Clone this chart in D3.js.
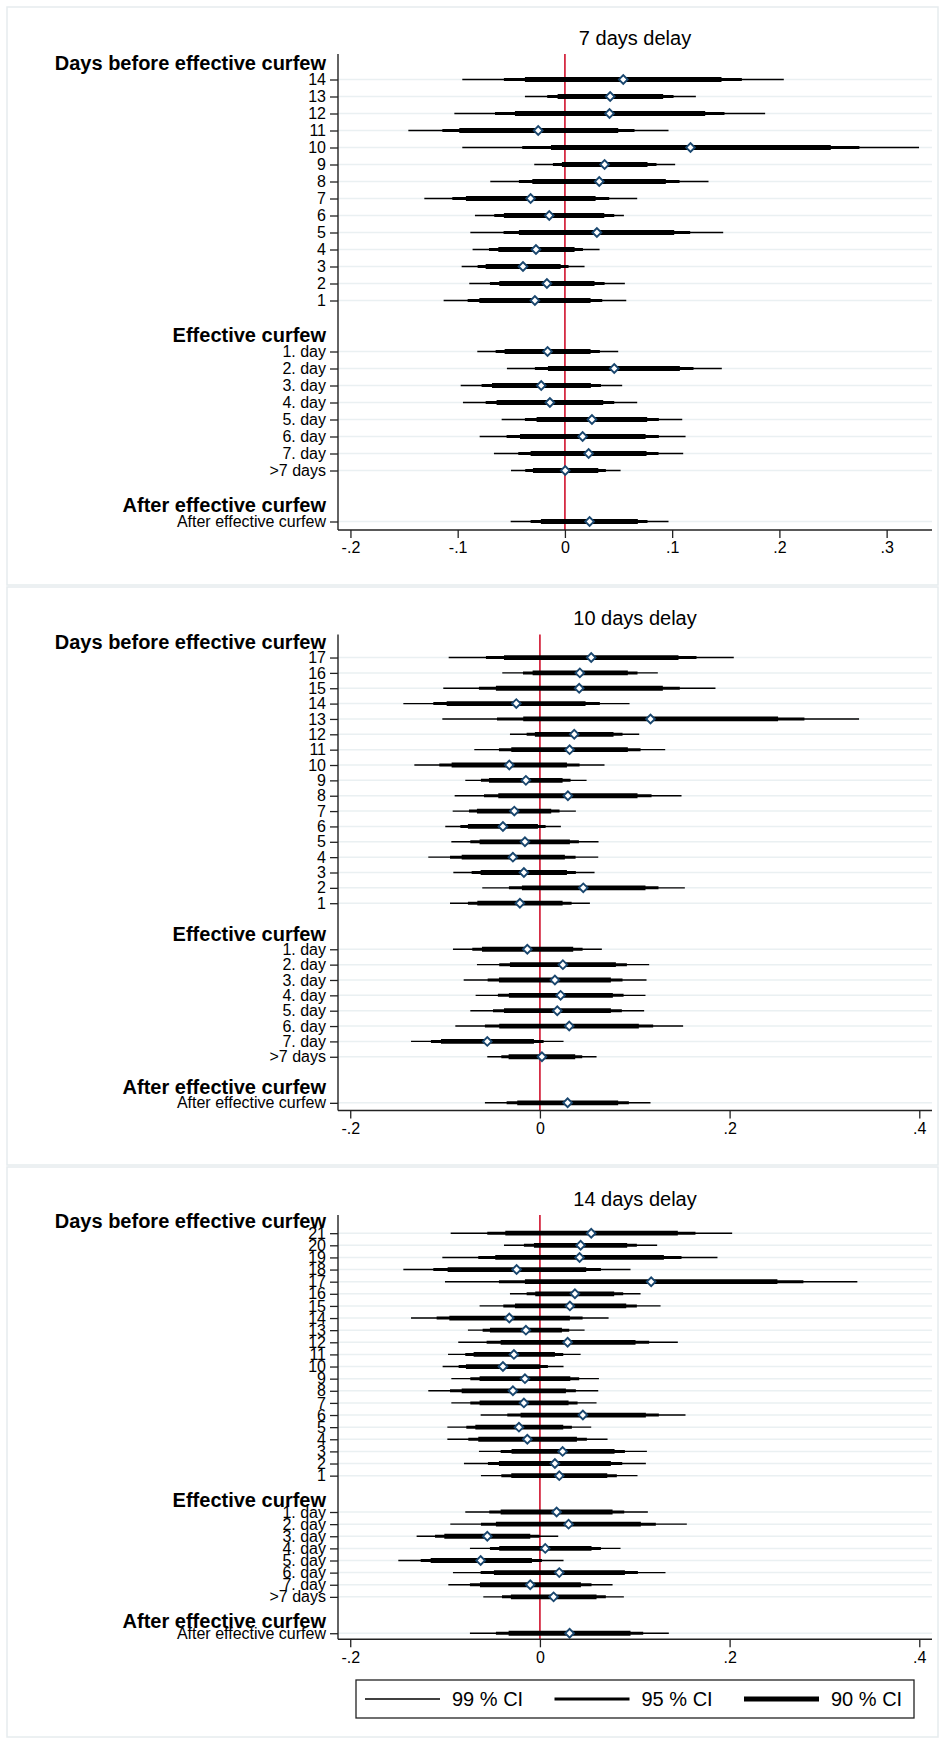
<!DOCTYPE html>
<html>
<head>
<meta charset="utf-8">
<script src="https://cdn.jsdelivr.net/npm/d3@7"></script>
<style>
  body { margin: 0; background: #fff; }
  svg text { font-family: "Liberation Sans", Arial, sans-serif; fill: #000; }
</style>
</head>
<body>
<svg id="chart" width="940" height="1738"></svg>
<script>
'use strict';

// ---- labels ----
var days7 = ['14', '13', '12', '11', '10', '9', '8', '7', '6', '5', '4', '3', '2', '1'];
var days10 = ['17', '16', '15', '14', '13', '12', '11', '10', '9', '8', '7', '6', '5', '4', '3', '2', '1'];
var days14 = ['21', '20', '19', '18', '17', '16', '15', '14', '13', '12', '11', '10', '9', '8', '7', '6', '5', '4', '3', '2', '1'];
var effDays = ['1. day', '2. day', '3. day', '4. day', '5. day', '6. day', '7. day', '>7 days'];
var afterDays = ['After effective curfew'];
var groupHeaders = ['Days before effective curfew', 'Effective curfew', 'After effective curfew'];
var legendLabels = ['99 % CI', '95 % CI', '90 % CI'];

// ---- x ticks ----
var xTicks7 = [-0.2, -0.1, 0, 0.1, 0.2, 0.3];
var xTickLabels7 = ['-.2', '-.1', '0', '.1', '.2', '.3'];
var xTicks10 = [-0.2, 0, 0.2, 0.4];
var xTickLabels10 = ['-.2', '0', '.2', '.4'];

// ---- 7 days delay ----
var est7 = [0.0544, 0.0422, 0.0416, -0.0249, 0.1171, 0.0370, 0.0320, -0.0320, -0.0146, 0.0298, -0.0270, -0.0391, -0.0168, -0.0280,
  -0.0162, 0.0460, -0.0221, -0.0140, 0.0252, 0.0165, 0.0221, 0.0003, 0.0230];
var lo99_7 = [-0.0957, -0.0373, -0.1031, -0.1460, -0.0957, -0.0286, -0.0696, -0.1311, -0.0839, -0.0882, -0.0861, -0.0963, -0.0892, -0.1131,
  -0.0817, -0.0541, -0.0972, -0.0951, -0.0590, -0.0795, -0.0662, -0.0503, -0.0506];
var hi99_7 = [0.2041, 0.1221, 0.1867, 0.0966, 0.3302, 0.1028, 0.1339, 0.0674, 0.0550, 0.1476, 0.0323, 0.0183, 0.0559, 0.0572,
  0.0497, 0.1463, 0.0534, 0.0674, 0.1094, 0.1125, 0.1103, 0.0519, 0.0966];
var lo95_7 = [-0.0569, -0.0165, -0.0652, -0.1143, -0.0398, -0.0112, -0.0429, -0.1050, -0.0659, -0.0572, -0.0708, -0.0814, -0.0699, -0.0907,
  -0.0646, -0.0280, -0.0777, -0.0739, -0.0373, -0.0544, -0.0435, -0.0370, -0.0320];
var hi95_7 = [0.1650, 0.1013, 0.1488, 0.0649, 0.2746, 0.0854, 0.1069, 0.0413, 0.0460, 0.1168, 0.0168, 0.0034, 0.0370, 0.0348,
  0.0326, 0.1199, 0.0336, 0.0460, 0.0876, 0.0876, 0.0873, 0.0382, 0.0770];
var lo90_7 = [-0.0373, -0.0068, -0.0466, -0.0985, -0.0130, -0.0028, -0.0304, -0.0923, -0.0569, -0.0429, -0.0621, -0.0739, -0.0612, -0.0798,
  -0.0562, -0.0158, -0.0680, -0.0637, -0.0264, -0.0419, -0.0320, -0.0298, -0.0224];
var hi90_7 = [0.1460, 0.0916, 0.1308, 0.0497, 0.2479, 0.0770, 0.0941, 0.0286, 0.0367, 0.1019, 0.0090, -0.0040, 0.0276, 0.0239,
  0.0239, 0.1072, 0.0242, 0.0357, 0.0767, 0.0752, 0.0761, 0.0311, 0.0680];

// ---- 10 days delay ----
var est10 = [0.0541, 0.0421, 0.0414, -0.0249, 0.1166, 0.0362, 0.0313, -0.0323, -0.0148, 0.0295, -0.0270, -0.0390, -0.0158, -0.0285, -0.0169, 0.0457, -0.0211,
  -0.0133, 0.0242, 0.0158, 0.0218, 0.0183, 0.0309, -0.0555, 0.0021, 0.0292];
var lo99_10 = [-0.0962, -0.0397, -0.1019, -0.1440, -0.1029, -0.0316, -0.0692, -0.1324, -0.0787, -0.0899, -0.0920, -0.0998, -0.0934, -0.1177, -0.0913, -0.0608, -0.0948,
  -0.0917, -0.0664, -0.0804, -0.0678, -0.0734, -0.0892, -0.1359, -0.0555, -0.0580];
var hi99_10 = [0.2044, 0.1243, 0.1851, 0.0945, 0.3365, 0.1047, 0.1321, 0.0681, 0.0492, 0.1493, 0.0379, 0.0221, 0.0618, 0.0615, 0.0576, 0.1528, 0.0527,
  0.0653, 0.1152, 0.1124, 0.1113, 0.1099, 0.1510, 0.0249, 0.0597, 0.1166];
var lo95_10 = [-0.0569, -0.0179, -0.0643, -0.1124, -0.0453, -0.0140, -0.0432, -0.1061, -0.0622, -0.0590, -0.0748, -0.0839, -0.0734, -0.0948, -0.0720, -0.0327, -0.0759,
  -0.0713, -0.0429, -0.0551, -0.0443, -0.0495, -0.0580, -0.1149, -0.0407, -0.0351];
var hi95_10 = [0.1651, 0.1029, 0.1475, 0.0632, 0.2789, 0.0871, 0.1061, 0.0418, 0.0323, 0.1177, 0.0207, 0.0060, 0.0411, 0.0376, 0.0379, 0.1250, 0.0334,
  0.0450, 0.0917, 0.0871, 0.0882, 0.0864, 0.1194, 0.0039, 0.0446, 0.0938];
var lo90_10 = [-0.0379, -0.0077, -0.0464, -0.0983, -0.0176, -0.0053, -0.0302, -0.0931, -0.0537, -0.0439, -0.0664, -0.0759, -0.0636, -0.0825, -0.0625, -0.0190, -0.0660,
  -0.0611, -0.0316, -0.0432, -0.0327, -0.0379, -0.0429, -0.1043, -0.0330, -0.0239];
var hi90_10 = [0.1461, 0.0927, 0.1296, 0.0481, 0.2511, 0.0776, 0.0927, 0.0285, 0.0239, 0.1029, 0.0119, -0.0021, 0.0316, 0.0263, 0.0285, 0.1113, 0.0239,
  0.0351, 0.0801, 0.0748, 0.0769, 0.0748, 0.1043, -0.0063, 0.0372, 0.0825];

// ---- 14 days delay ----
var est14 = [0.0541, 0.0429, 0.0418, -0.0246, 0.1173, 0.0369, 0.0316, -0.0323, -0.0148, 0.0292, -0.0274, -0.0390, -0.0158, -0.0285, -0.0169, 0.0453, -0.0221, -0.0133, 0.0239, 0.0158, 0.0204,
  0.0176, 0.0302, -0.0555, 0.0056, -0.0625, 0.0204, -0.0102, 0.0144, 0.0313];
var lo99_14 = [-0.0941, -0.0379, -0.1029, -0.1440, -0.1001, -0.0316, -0.0636, -0.1359, -0.0759, -0.0861, -0.0969, -0.1026, -0.0934, -0.1177, -0.0934, -0.0625, -0.0976, -0.0976, -0.0643, -0.0801, -0.0622,
  -0.0787, -0.0945, -0.1300, -0.0738, -0.1493, -0.0917, -0.0966, -0.0597, -0.0738];
var hi99_14 = [0.2027, 0.1236, 0.1872, 0.0955, 0.3347, 0.1061, 0.1272, 0.0724, 0.0471, 0.1454, 0.0429, 0.0249, 0.0622, 0.0615, 0.0597, 0.1535, 0.0541, 0.0713, 0.1128, 0.1117, 0.1029,
  0.1138, 0.1549, 0.0193, 0.0850, 0.0249, 0.1324, 0.0766, 0.0885, 0.1359];
var lo95_14 = [-0.0555, -0.0169, -0.0650, -0.1124, -0.0432, -0.0140, -0.0386, -0.1089, -0.0604, -0.0562, -0.0787, -0.0857, -0.0734, -0.0948, -0.0734, -0.0344, -0.0776, -0.0755, -0.0414, -0.0548, -0.0407,
  -0.0534, -0.0622, -0.1106, -0.0527, -0.1257, -0.0625, -0.0738, -0.0400, -0.0464];
var hi95_14 = [0.1640, 0.1022, 0.1493, 0.0643, 0.2778, 0.0878, 0.1022, 0.0450, 0.0309, 0.1152, 0.0246, 0.0084, 0.0414, 0.0379, 0.0397, 0.1254, 0.0337, 0.0495, 0.0896, 0.0868, 0.0811,
  0.0889, 0.1222, -0.0004, 0.0643, 0.0021, 0.1033, 0.0544, 0.0695, 0.1089];
var lo90_14 = [-0.0365, -0.0063, -0.0471, -0.0973, -0.0158, -0.0049, -0.0263, -0.0955, -0.0527, -0.0414, -0.0699, -0.0780, -0.0636, -0.0825, -0.0636, -0.0204, -0.0681, -0.0650, -0.0299, -0.0432, -0.0302,
  -0.0414, -0.0464, -0.1008, -0.0429, -0.1152, -0.0485, -0.0632, -0.0306, -0.0330];
var hi90_14 = [0.1454, 0.0920, 0.1307, 0.0488, 0.2504, 0.0783, 0.0910, 0.0316, 0.0232, 0.1008, 0.0158, 0.0000, 0.0320, 0.0274, 0.0302, 0.1117, 0.0246, 0.0390, 0.0787, 0.0748, 0.0710,
  0.0766, 0.1064, -0.0102, 0.0544, -0.0084, 0.0896, 0.0432, 0.0597, 0.0955];

var svg = d3.select('#chart');
var plotLeft = 338;
var plotRight = 932;
var lineWidths = [1.4, 3, 4.8];
var axisColor = '#222';
var gridColor = '#eaf0f2';
var frameColor = '#e6ecee';
var refColor = '#d0102c';
var markerColor = '#1a476f';

var panels = [
  {
    title: '7 days delay', days: days7, est: est7,
    cis: [[lo99_7, hi99_7], [lo95_7, hi95_7], [lo90_7, hi90_7]],
    xTicks: xTicks7, xLabels: xTickLabels7, xDomain: [-0.2116, 0.3423],
    top: 54, bottom: 530, titleY: 45, frameTop: 7, frameBottom: 585
  },
  {
    title: '10 days delay', days: days10, est: est10,
    cis: [[lo99_10, hi99_10], [lo95_10, hi95_10], [lo90_10, hi90_10]],
    xTicks: xTicks10, xLabels: xTickLabels10, xDomain: [-0.2129, 0.4134],
    top: 634.5, bottom: 1110.5, titleY: 625, frameTop: 587, frameBottom: 1165
  },
  {
    title: '14 days delay', days: days14, est: est14,
    cis: [[lo99_14, hi99_14], [lo95_14, hi95_14], [lo90_14, hi90_14]],
    xTicks: xTicks10, xLabels: xTickLabels10, xDomain: [-0.2129, 0.4134],
    top: 1215, bottom: 1639.3, titleY: 1206, frameTop: 1167, frameBottom: 1737
  }
];

panels.forEach(drawPanel);
drawLegend();

function drawPanel(p) {
  var n = p.days.length;
  var labels = p.days.concat(effDays, afterDays);
  // position index of each row: two empty slots before each new group
  function slot(i) {
    if (i < n) { return i; }
    if (i < n + effDays.length) { return i + 2; }
    return i + 4;
  }
  var headerSlots = [-1, n + 1, n + effDays.length + 3];
  var lastSlot = slot(labels.length - 1);

  var x = d3.scaleLinear().domain(p.xDomain).range([plotLeft, plotRight]);
  var y = d3.scaleLinear().domain([-1.5, lastSlot + 0.5]).range([p.top, p.bottom]);

  svg.append('rect')
      .attr('x', 7).attr('y', p.frameTop)
      .attr('width', 931).attr('height', p.frameBottom - p.frameTop)
      .attr('fill', '#fff')
      .attr('stroke', frameColor)
      .attr('stroke-width', 1.5);

  var g = svg.append('g');
  var rows = labels.map(function (l, i) { return i; });

  // grid lines
  g.selectAll('line.grid')
      .data(rows)
    .enter().append('line')
      .attr('class', 'grid')
      .attr('x1', plotLeft).attr('x2', plotRight)
      .attr('y1', function (i) { return y(slot(i)); })
      .attr('y2', function (i) { return y(slot(i)); })
      .attr('stroke', gridColor)
      .attr('stroke-width', 1.5);

  // reference line at zero
  g.append('line')
      .attr('x1', x(0)).attr('x2', x(0))
      .attr('y1', p.top).attr('y2', p.bottom)
      .attr('stroke', refColor)
      .attr('stroke-width', 1.6);

  // confidence intervals, widest first
  p.cis.forEach(function (ci, k) {
    g.selectAll('line.ci' + k)
        .data(rows)
      .enter().append('line')
        .attr('class', 'ci' + k)
        .attr('x1', function (i) { return x(ci[0][i]); })
        .attr('x2', function (i) { return x(ci[1][i]); })
        .attr('y1', function (i) { return y(slot(i)); })
        .attr('y2', function (i) { return y(slot(i)); })
        .attr('stroke', '#000')
        .attr('stroke-width', lineWidths[k]);
  });

  // point estimates
  g.selectAll('path.est')
      .data(rows)
    .enter().append('path')
      .attr('class', 'est')
      .attr('transform', function (i) {
        return 'translate(' + x(p.est[i]) + ',' + y(slot(i)) + ') rotate(45)';
      })
      .attr('d', d3.symbol().type(d3.symbolSquare).size(38))
      .attr('fill', '#fff')
      .attr('stroke', markerColor)
      .attr('stroke-width', 1.9);

  // axes
  var yAxis = d3.axisLeft(y)
      .tickValues(rows.map(slot))
      .tickFormat(function (s, k) { return labels[k]; })
      .tickSize(8)
      .tickPadding(4)
      .tickSizeOuter(0);
  var yg = svg.append('g')
      .attr('transform', 'translate(' + plotLeft + ',0)')
      .call(yAxis);

  var xAxis = d3.axisBottom(x)
      .tickValues(p.xTicks)
      .tickFormat(function (v, k) { return p.xLabels[k]; })
      .tickSize(8)
      .tickPadding(4)
      .tickSizeOuter(0);
  var xg = svg.append('g')
      .attr('transform', 'translate(0,' + p.bottom + ')')
      .call(xAxis);

  [yg, xg].forEach(function (a) {
    a.attr('font-size', 16).attr('font-family', '"Liberation Sans", Arial, sans-serif');
    a.select('.domain').attr('stroke', axisColor).attr('stroke-width', 1.4);
    a.selectAll('.tick line').attr('stroke', axisColor).attr('stroke-width', 1.3);
    a.selectAll('.tick text').attr('fill', '#000');
  });
  // y domain is drawn without the outer ticks
  yg.select('.domain').attr('d', 'M0,' + p.top + 'V' + p.bottom);
  xg.select('.domain').attr('d', 'M' + plotLeft + ',0H' + plotRight);

  // group headers
  svg.selectAll(null)
      .data(headerSlots)
    .enter().append('text')
      .attr('x', 326)
      .attr('y', function (s) { return y(s) + 7; })
      .attr('text-anchor', 'end')
      .attr('font-size', 20)
      .attr('font-weight', 'bold')
      .text(function (s, k) { return groupHeaders[k]; });

  // title
  svg.append('text')
      .attr('x', (plotLeft + plotRight) / 2)
      .attr('y', p.titleY)
      .attr('text-anchor', 'middle')
      .attr('font-size', 20)
      .text(p.title);
}

function drawLegend() {
  var lg = svg.append('g');
  lg.append('rect')
      .attr('x', 356).attr('y', 1680)
      .attr('width', 558).attr('height', 38)
      .attr('fill', '#fff')
      .attr('stroke', axisColor)
      .attr('stroke-width', 1.3);

  var items = lg.selectAll('g.item')
      .data(legendLabels)
    .enter().append('g')
      .attr('class', 'item')
      .attr('transform', function (d, k) { return 'translate(' + (365 + k * 189.5) + ',1699)'; });

  items.append('line')
      .attr('x1', 0).attr('x2', 75)
      .attr('stroke', '#000')
      .attr('stroke-width', function (d, k) { return lineWidths[k]; });

  items.append('text')
      .attr('x', 87)
      .attr('y', 7)
      .attr('font-size', 20)
      .text(function (d) { return d; });
}
</script>
</body>
</html>
